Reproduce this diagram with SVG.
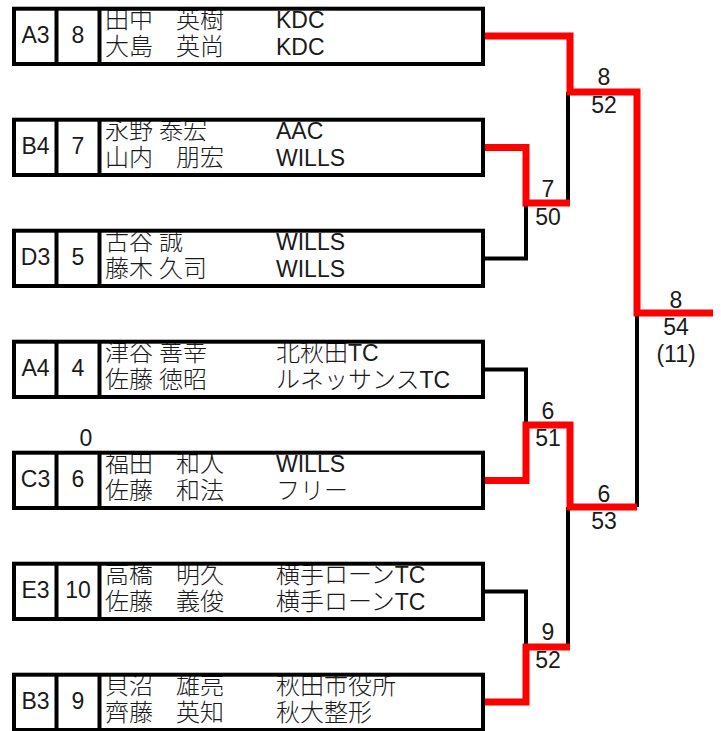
<svg xmlns="http://www.w3.org/2000/svg" width="721" height="731" viewBox="0 0 721 731">
<style>
text{font-family:"Liberation Sans","Noto Sans CJK JP",sans-serif;font-size:23px;fill:#1a1a1a}
.j{font-family:"Noto Sans CJK JP",sans-serif;font-size:24px;font-weight:300}
.c{text-anchor:middle}
.bg{fill:#fff;stroke:none}
.fr{fill:none;stroke:#000;stroke-width:4}
.dv{stroke:#000;stroke-width:4}
.win{fill:none;stroke:#ff0000;stroke-width:7;stroke-linejoin:miter}
.los{fill:none;stroke:#000;stroke-width:4}
</style>
<rect width="721" height="731" fill="#fff"/>
<g id="connectors">
<path class="los" d="M483 258.4H526V203"/>
<path class="los" d="M568 92V203"/>
<path class="los" d="M637 313V507"/>
<path class="los" d="M483 369.4H526V425"/>
<path class="los" d="M568 507V647"/>
<path class="los" d="M483 591.4H526V647"/>
<path class="win" d="M483 36H570V92H637V313H713"/>
<path class="win" d="M483 147.4H526V203H570"/>
<path class="win" d="M483 480.4H526V425H570V507H637"/>
<path class="win" d="M483 702H526V647H570"/>
</g>
<g id="scores">
<text class="c" x="604" y="85">8</text><text class="c" x="604" y="113">52</text>
<text class="c" x="548" y="197">7</text><text class="c" x="548" y="225">50</text>
<text class="c" x="676" y="308">8</text><text class="c" x="676" y="335">54</text><text class="c" x="676" y="362">(11)</text>
<text class="c" x="548" y="419">6</text><text class="c" x="548" y="446">51</text>
<text class="c" x="86" y="446">0</text>
<text class="c" x="604" y="502">6</text><text class="c" x="604" y="529">53</text>
<text class="c" x="548" y="640">9</text><text class="c" x="548" y="668">52</text>
</g>
<g id="team1" transform="translate(0,8.7)">
<rect class="bg" x="14" y="0" width="469" height="55.3"/>
<text class="c" x="35.5" y="34">A3</text><text class="c" x="78" y="34">8</text>
<text class="j" x="105" y="19.5">田中　<tspan x="176">英樹</tspan></text>
<text class="j" x="105" y="46.5">大島　<tspan x="176">英尚</tspan></text>
<text x="276" y="19.5">KDC</text><text x="276" y="46.5">KDC</text>
<rect class="fr" x="14" y="0" width="469" height="55.3"/>
<path class="dv" d="M56.5 0V55.3M99.5 0V55.3"/>
</g>
<g id="team2" transform="translate(0,119.7)">
<rect class="bg" x="14" y="0" width="469" height="55.3"/>
<text class="c" x="35.5" y="34">B4</text><text class="c" x="78" y="34">7</text>
<text class="j" x="105" y="19.5">永野 <tspan x="159">泰宏</tspan></text>
<text class="j" x="105" y="46.5">山内　<tspan x="176">朋宏</tspan></text>
<text x="276" y="19.5">AAC</text><text x="276" y="46.5">WILLS</text>
<rect class="fr" x="14" y="0" width="469" height="55.3"/>
<path class="dv" d="M56.5 0V55.3M99.5 0V55.3"/>
</g>
<g id="team3" transform="translate(0,230.7)">
<rect class="bg" x="14" y="0" width="469" height="55.3"/>
<text class="c" x="35.5" y="34">D3</text><text class="c" x="78" y="34">5</text>
<text class="j" x="105" y="19.5">古谷 <tspan x="159">誠</tspan></text>
<text class="j" x="105" y="46.5">藤木 <tspan x="159">久司</tspan></text>
<text x="276" y="19.5">WILLS</text><text x="276" y="46.5">WILLS</text>
<rect class="fr" x="14" y="0" width="469" height="55.3"/>
<path class="dv" d="M56.5 0V55.3M99.5 0V55.3"/>
</g>
<g id="team4" transform="translate(0,341.7)">
<rect class="bg" x="14" y="0" width="469" height="55.3"/>
<text class="c" x="35.5" y="34">A4</text><text class="c" x="78" y="34">4</text>
<text class="j" x="105" y="19.5">津谷 <tspan x="159">善幸</tspan></text>
<text class="j" x="105" y="46.5">佐藤 <tspan x="159">徳昭</tspan></text>
<text x="276" y="19.5"><tspan class="j">北秋田</tspan>TC</text><text x="276" y="46.5"><tspan class="j">ルネッサンス</tspan>TC</text>
<rect class="fr" x="14" y="0" width="469" height="55.3"/>
<path class="dv" d="M56.5 0V55.3M99.5 0V55.3"/>
</g>
<g id="team5" transform="translate(0,452.7)">
<rect class="bg" x="14" y="0" width="469" height="55.3"/>
<text class="c" x="35.5" y="34">C3</text><text class="c" x="78" y="34">6</text>
<text class="j" x="105" y="19.5">福田　<tspan x="176">和人</tspan></text>
<text class="j" x="105" y="46.5">佐藤　<tspan x="176">和法</tspan></text>
<text x="276" y="19.5">WILLS</text><text class="j" x="276" y="46.5">フリー</text>
<rect class="fr" x="14" y="0" width="469" height="55.3"/>
<path class="dv" d="M56.5 0V55.3M99.5 0V55.3"/>
</g>
<g id="team6" transform="translate(0,563.7)">
<rect class="bg" x="14" y="0" width="469" height="55.3"/>
<text class="c" x="35.5" y="34">E3</text><text class="c" x="78" y="34">10</text>
<text class="j" x="105" y="19.5">高橋　<tspan x="176">明久</tspan></text>
<text class="j" x="105" y="46.5">佐藤　<tspan x="176">義俊</tspan></text>
<text x="276" y="19.5"><tspan class="j">横手ローン</tspan>TC</text><text x="276" y="46.5"><tspan class="j">横手ローン</tspan>TC</text>
<rect class="fr" x="14" y="0" width="469" height="55.3"/>
<path class="dv" d="M56.5 0V55.3M99.5 0V55.3"/>
</g>
<g id="team7" transform="translate(0,674.7)">
<rect class="bg" x="14" y="0" width="469" height="55.3"/>
<text class="c" x="35.5" y="34">B3</text><text class="c" x="78" y="34">9</text>
<text class="j" x="105" y="19.5">貝沼　<tspan x="176">雄亮</tspan></text>
<text class="j" x="105" y="46.5">齊藤　<tspan x="176">英知</tspan></text>
<text class="j" x="276" y="19.5">秋田市役所</text><text class="j" x="276" y="46.5">秋大整形</text>
<rect class="fr" x="14" y="0" width="469" height="55.3"/>
<path class="dv" d="M56.5 0V55.3M99.5 0V55.3"/>
</g>
</svg>
